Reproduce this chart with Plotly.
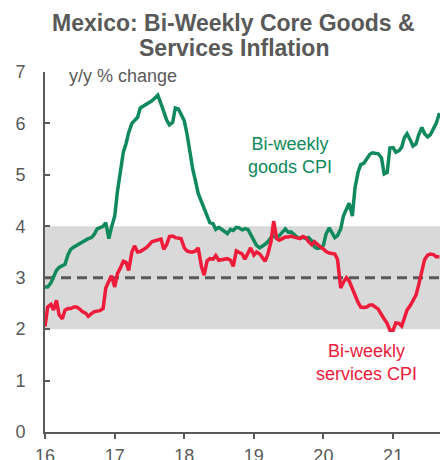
import pandas as pd
import plotly.graph_objects as go

# Bi-weekly (semi-monthly) observations starting Jan 2016
goods_cpi = [
    2.82, 2.82, 2.90, 3.01, 3.14, 3.20, 3.23, 3.26, 3.45, 3.55,
    3.60, 3.63, 3.66, 3.70, 3.74, 3.76, 3.78, 3.84, 3.95, 3.98,
    4.00, 4.07, 3.76, 3.98, 4.20, 4.67, 5.15, 5.44, 5.60, 5.82,
    6.00, 6.06, 6.12, 6.30, 6.34, 6.36, 6.40, 6.44, 6.50, 6.55,
    6.38, 6.22, 6.06, 5.97, 6.02, 6.30, 6.28, 6.18, 6.05, 5.80,
    5.38, 5.10, 4.88, 4.64, 4.48, 4.35, 4.18, 4.07, 4.05, 3.94,
    3.98, 3.94, 3.88, 3.86, 3.94, 3.92, 3.98, 3.97, 3.93, 3.95,
    3.94, 3.85, 3.72, 3.63, 3.58, 3.61, 3.65, 3.70, 3.78, 3.81,
    3.77, 3.82, 3.89, 3.95, 3.88, 3.89, 3.84, 3.79, 3.77, 3.79,
    3.76, 3.78, 3.72, 3.60, 3.57, 3.58, 3.63, 3.85, 3.97, 3.88,
    3.78, 3.82, 3.95, 4.20, 4.33, 4.45, 4.20, 4.75, 5.05, 5.20,
    5.23, 5.30, 5.40, 5.43, 5.41, 5.41, 5.33, 5.02, 5.05, 5.52,
    5.53, 5.44, 5.47, 5.54, 5.72, 5.80, 5.68, 5.56, 5.60, 5.78,
    5.92, 5.80, 5.74, 5.78, 5.90, 6.00, 6.20,
]
services_cpi = [
    2.05, 2.43, 2.48, 2.37, 2.56, 2.28, 2.20, 2.37, 2.40, 2.40,
    2.43, 2.43, 2.39, 2.34, 2.31, 2.25, 2.30, 2.34, 2.35, 2.36,
    2.40, 2.80, 2.93, 3.04, 2.82, 3.08, 3.20, 3.32, 3.30, 3.14,
    3.50, 3.62, 3.50, 3.51, 3.55, 3.58, 3.64, 3.70, 3.72, 3.74,
    3.75, 3.55, 3.65, 3.80, 3.81, 3.78, 3.77, 3.76, 3.58, 3.52,
    3.50, 3.50, 3.52, 3.58, 3.22, 3.05, 3.33, 3.37, 3.36, 3.43,
    3.34, 3.35, 3.37, 3.37, 3.34, 3.22, 3.52, 3.49, 3.46, 3.36,
    3.50, 3.58, 3.44, 3.50, 3.46, 3.40, 3.32, 3.45, 3.70, 4.10,
    3.76, 3.73, 3.76, 3.79, 3.79, 3.81, 3.79, 3.77, 3.76, 3.80,
    3.78, 3.70, 3.64, 3.70, 3.64, 3.60, 3.56, 3.51, 3.48, 3.47,
    3.46, 3.36, 2.80, 2.91, 3.00, 2.94, 2.79, 2.63, 2.52, 2.43,
    2.42, 2.43, 2.47, 2.47, 2.43, 2.39, 2.28, 2.20, 2.11, 1.98,
    1.98, 2.12, 2.11, 2.06, 2.21, 2.37, 2.46, 2.55, 2.66, 2.86,
    3.15, 3.35, 3.44, 3.46, 3.45, 3.41, 3.41,
]
dates = pd.date_range("2016-01-01", periods=len(goods_cpi), freq="SMS")

band_low, band_high = 2, 4
target = 3
year_ticks = pd.date_range("2016-01-01", "2021-01-01", freq="YS")
year_labels = ["16", "17", "18", "19", "20", "21"]
y_ticks = [0, 1, 2, 3, 4, 5, 6, 7]
title_lines = ["Mexico: Bi-Weekly Core Goods &", "Services Inflation"]

GRAY = "#595959"
GREEN = "#108A5C"
RED = "#EE1B3A"

fig = go.Figure()
fig.add_hrect(y0=band_low, y1=band_high, fillcolor="#D9D9D9", line_width=0, layer="below")
fig.add_trace(go.Scatter(x=[dates[0], pd.Timestamp("2021-09-10")], y=[target, target], mode="lines",
                         line=dict(color=GRAY, width=3, dash="10px,6px"), hoverinfo="skip",
                         showlegend=False))
fig.add_trace(go.Scatter(x=dates, y=goods_cpi, mode="lines",
                         line=dict(color=GREEN, width=3.5), showlegend=False))
fig.add_trace(go.Scatter(x=dates, y=services_cpi, mode="lines",
                         line=dict(color=RED, width=3.5), showlegend=False))

annotations = [
    dict(text=f"<b>{title_lines[0]}</b>", xref="paper", yref="paper", x=0.478, y=1.136,
         xanchor="center", yanchor="middle", showarrow=False,
         font=dict(size=23, color=GRAY)),
    dict(text=f"<b>{title_lines[1]}</b>", xref="paper", yref="paper", x=0.478, y=1.066,
         xanchor="center", yanchor="middle", showarrow=False,
         font=dict(size=23, color=GRAY)),
    dict(text="y/y % change", xref="paper", yref="paper", x=0.055, y=0.99,
         xanchor="left", yanchor="middle", showarrow=False,
         font=dict(size=18, color=GRAY)),
    dict(text="Bi-weekly<br>goods CPI", xref="paper", yref="paper", x=0.62, y=0.768,
         xanchor="center", yanchor="middle", showarrow=False,
         font=dict(size=18, color=GREEN)),
    dict(text="Bi-weekly<br>services CPI", xref="paper", yref="paper", x=0.815, y=0.192,
         xanchor="center", yanchor="middle", showarrow=False,
         font=dict(size=18, color=RED)),
]

fig.update_layout(
    width=440, height=460,
    margin=dict(l=45, r=0, t=72, b=28),
    paper_bgcolor="white", plot_bgcolor="white",
    font=dict(family="Liberation Sans, Arial, sans-serif", color=GRAY, size=18),
    annotations=annotations,
)
fig.update_xaxes(
    range=[pd.Timestamp("2016-01-01"), pd.Timestamp("2021-09-04")],
    tickvals=year_ticks, ticktext=year_labels,
    showgrid=False, zeroline=False, automargin=False,
    showline=True, linecolor=GRAY, linewidth=2,
    ticks="outside", ticklen=5, tickwidth=2, tickcolor=GRAY,
    ticklabelstandoff=1,
    tickfont=dict(size=18, color=GRAY),
)
fig.update_yaxes(
    range=[0, 7], tickvals=y_ticks,
    showgrid=False, zeroline=False, automargin=False,
    showline=True, linecolor=GRAY, linewidth=2,
    ticks="inside", ticklen=5, tickwidth=2, tickcolor=GRAY,
    ticklabelstandoff=14,
    tickfont=dict(size=18, color=GRAY),
)

fig.write_html("out.html")
